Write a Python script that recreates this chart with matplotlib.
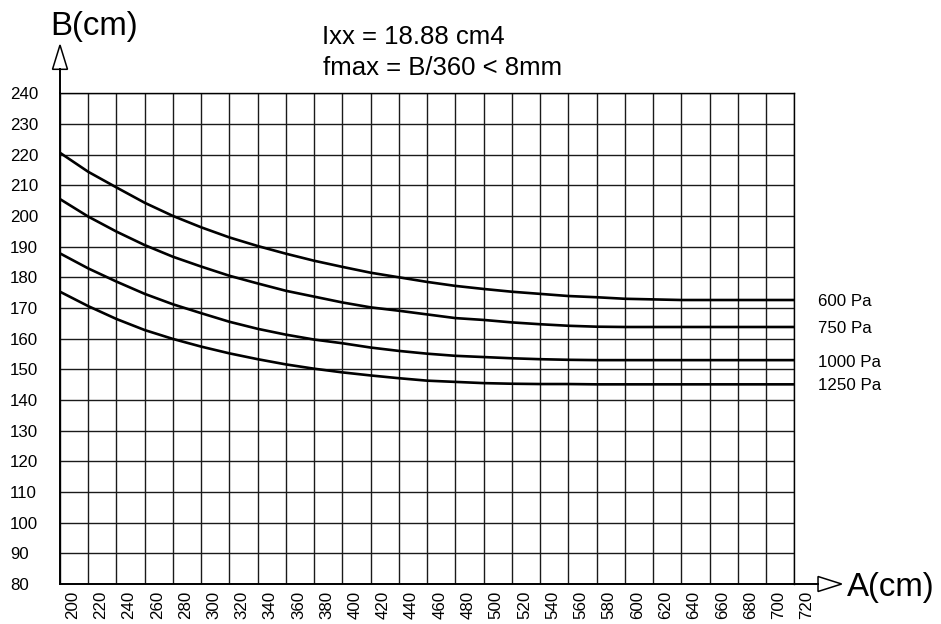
import matplotlib
matplotlib.use("Agg")
import matplotlib.pyplot as plt
from matplotlib.patches import Polygon
from matplotlib.lines import Line2D

plt.rcParams['font.family'] = ['Liberation Sans', 'DejaVu Sans']

# ---- data ----
A_grid = list(range(190, 711, 20))          # grid line positions (cm)
x_labels = list(range(200, 721, 20))        # x tick labels
y_ticks = list(range(80, 241, 10))          # y tick labels

B_600 = [220.6, 214.4, 209.3, 204.3, 200.0, 196.3, 193.0, 190.2, 187.7, 185.4,
         183.4, 181.5, 180.0, 178.5, 177.2, 176.2, 175.3, 174.6, 173.9, 173.5,
         173.0, 172.8, 172.6, 172.6, 172.6, 172.6, 172.6]
B_750 = [205.5, 199.8, 194.9, 190.5, 186.7, 183.5, 180.5, 178.0, 175.6, 173.7,
         171.8, 170.2, 169.1, 167.9, 166.7, 166.1, 165.3, 164.7, 164.2, 163.9,
         163.8, 163.8, 163.8, 163.8, 163.8, 163.8, 163.8]
B_1000 = [187.8, 182.9, 178.6, 174.6, 171.2, 168.3, 165.5, 163.2, 161.3, 159.7,
          158.5, 157.1, 156.0, 155.1, 154.4, 154.0, 153.6, 153.3, 153.1, 153.0,
          153.0, 153.0, 153.0, 153.0, 153.0, 153.0, 153.0]
B_1250 = [175.3, 170.6, 166.4, 162.8, 159.9, 157.4, 155.2, 153.3, 151.6, 150.2,
          149.0, 148.0, 147.1, 146.3, 145.9, 145.5, 145.3, 145.2, 145.2, 145.1,
          145.1, 145.1, 145.1, 145.1, 145.1, 145.1, 145.1]
series = [B_600, B_750, B_1000, B_1250]
series_labels = ["600 Pa", "750 Pa", "1000 Pa", "1250 Pa"]

W, H = 941, 624
fig = plt.figure(figsize=(W / 100, H / 100), dpi=100)
ax = fig.add_axes([60 / W, 40 / H, 734.3 / W, 490.7 / H])

def fx(px):
    return px / W

def fy(py):
    return 1 - py / H

ax.set_xlim(190, 710)
ax.set_ylim(80, 240)
ax.set_xticks(A_grid)
ax.set_yticks(y_ticks)
ax.tick_params(length=0, labelbottom=False, labelleft=False)
ax.grid(True, color='#1a1a1a', lw=1.0)
for s in ax.spines.values():
    s.set_color('black')
    s.set_linewidth(1.0)
ax.spines['left'].set_linewidth(1.4)
ax.spines['bottom'].set_linewidth(1.4)
ax.set_axisbelow(True)

for ys in series:
    ax.plot(A_grid, ys, color='black', lw=1.9, solid_capstyle='butt', zorder=3)

# y tick labels (left aligned)
for v in y_ticks:
    ax.annotate(str(v), xy=(fx(10), v), xycoords=('figure fraction', 'data'),
                xytext=(0, -6), textcoords='offset pixels',
                ha='left', va='baseline', fontsize=12.2)

# x tick labels (rotated)
for v in x_labels:
    ax.annotate(str(v), xy=(v, 0), xycoords=('data', 'axes fraction'),
                xytext=(-1.5, -7), textcoords='offset pixels',
                ha='center', va='top', rotation=90, fontsize=12.2,
                annotation_clip=False)

# series labels
label_baselines = [306.3, 333.2, 366.6, 390.0]
for lab, by in zip(series_labels, label_baselines):
    fig.text(fx(817.7), fy(by), lab, ha='left', va='baseline', fontsize=12.2)

# axis extension lines and hollow arrows
ax.add_line(Line2D([0, 0], [1, 1.0489], transform=ax.transAxes, color='black',
                   lw=1.4, clip_on=False))
ax.add_line(Line2D([1, 1.0323], [0, 0], transform=ax.transAxes, color='black',
                   lw=1.4, clip_on=False))
hw = 7.5 / 734.3
ax.add_patch(Polygon([(-hw, 1.0489), (hw, 1.0489), (0, 1.0984)], closed=True,
                     transform=ax.transAxes, facecolor='white', edgecolor='black',
                     lw=1.1, clip_on=False))
hh = 7.5 / 490.7
ax.add_patch(Polygon([(1.0323, -hh), (1.0323, hh), (1.0645, 0)], closed=True,
                     transform=ax.transAxes, facecolor='white', edgecolor='black',
                     lw=1.1, clip_on=False))

# axis titles
fig.text(fx(50), fy(35), "B(cm)", ha='left', va='baseline', fontsize=23.8)
fig.text(fx(846.7), fy(596), "A(cm)", ha='left', va='baseline', fontsize=23.8)

# header text
fig.text(fx(321.7), fy(44), "Ixx = 18.88 cm4", ha='left', va='baseline', fontsize=18.5)
fig.text(fx(323), fy(75), "fmax = B/360 < 8mm", ha='left', va='baseline', fontsize=18.5)

fig.savefig("out.png", dpi=100, facecolor='white')
